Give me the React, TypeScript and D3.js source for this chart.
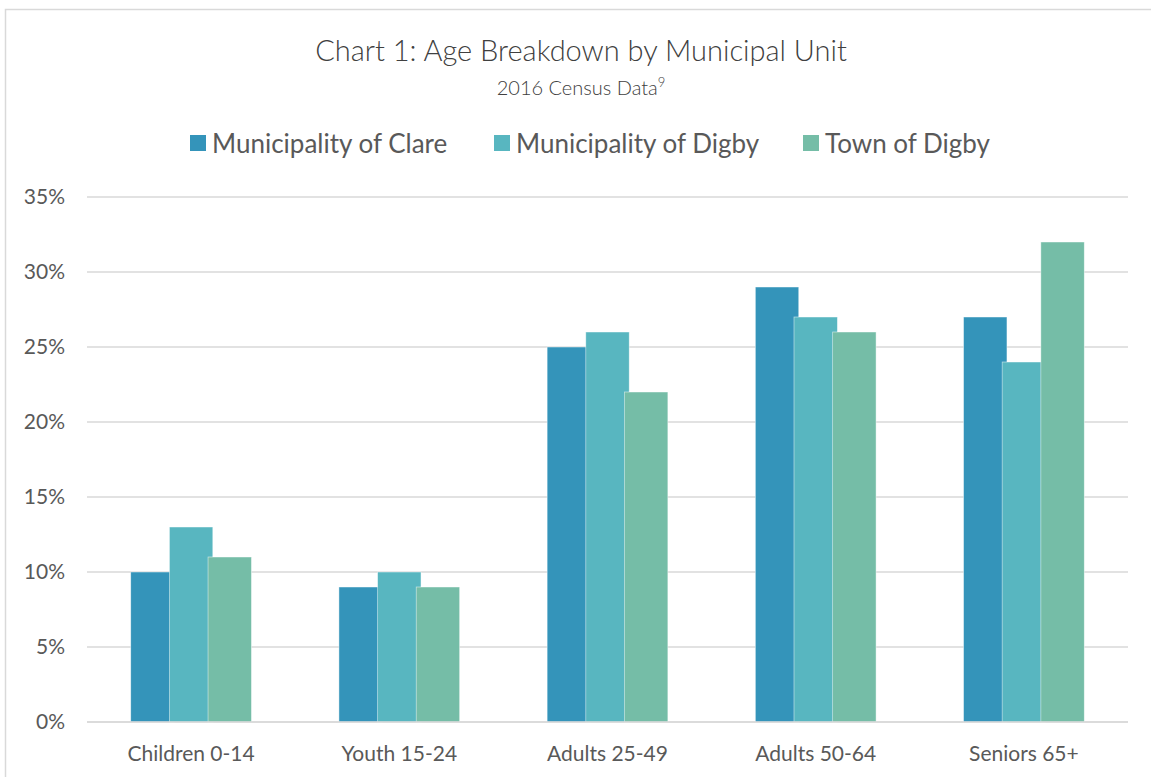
import * as d3 from 'd3';
import { useRef, useEffect } from 'react';

const categories = ['Children 0-14', 'Youth 15-24', 'Adults 25-49', 'Adults 50-64', 'Seniors 65+'];
const seriesNames = ['Municipality of Clare', 'Municipality of Digby', 'Town of Digby'];
const clare = [10, 9, 25, 29, 27];
const digbyMun = [13, 10, 26, 27, 24];
const digbyTown = [11, 9, 22, 26, 32];
const yTicks = [0, 5, 10, 15, 20, 25, 30, 35];
const colors = ['#3494BA', '#58B6C0', '#75BDA7'];

const W = 1151;
const H = 777;
const FONT = 'Lato, "Open Sans", sans-serif';
const TEXT = '#595959';

export default function App() {
  const svgRef = useRef<SVGSVGElement>(null);

  useEffect(() => {
    const svg = d3.select(svgRef.current);
    svg.selectAll('*').remove();

    const values = [clare, digbyMun, digbyTown];
    const left = 87, right = 1128, top = 197, bottom = 722;

    // chart frame (only top and left edges are visible in the crop)
    svg.append('path')
      .attr('d', `M5.5,${H} V9.5 H${W}`)
      .attr('fill', 'none')
      .attr('stroke', '#d9d9d9')
      .attr('stroke-width', 1.5);

    const x0 = d3.scaleBand<string>()
      .domain(categories)
      .range([left, right])
      .paddingInner(0.42)
      .paddingOuter(0.21);

    const y = d3.scaleLinear().domain([0, 35]).range([bottom, top]);

    // excel style overlap between bars in a group
    const overlap = 0.11;
    const barW = x0.bandwidth() / (seriesNames.length - (seriesNames.length - 1) * overlap);
    const x1 = d3.scalePoint<string>()
      .domain(seriesNames)
      .range([0, x0.bandwidth() - barW]);

    // gridlines
    svg.append('g')
      .selectAll('line')
      .data(yTicks)
      .join('line')
      .attr('x1', left)
      .attr('x2', right)
      .attr('y1', d => y(d))
      .attr('y2', d => y(d))
      .attr('stroke', '#d9d9d9')
      .attr('stroke-width', 1.5);

    // y labels
    svg.append('g')
      .selectAll('text')
      .data(yTicks)
      .join('text')
      .attr('x', 65)
      .attr('y', d => y(d) + 7)
      .attr('text-anchor', 'end')
      .style('font-family', FONT)
      .style('font-size', '21px')
      .style('fill', TEXT)
      .text(d => `${d}%`);

    // bars
    seriesNames.forEach((s, si) => {
      svg.append('g')
        .selectAll('rect')
        .data(categories)
        .join('rect')
        .attr('x', (c) => (x0(c) as number) + (x1(s) as number))
        .attr('y', (c, i) => y(values[si][i]))
        .attr('width', barW)
        .attr('height', (c, i) => bottom - y(values[si][i]))
        .attr('fill', colors[si])
        .attr('stroke', 'rgba(255,255,255,0.6)')
        .attr('stroke-width', 0.75);
    });

    // baseline
    svg.append('line')
      .attr('x1', left)
      .attr('x2', right)
      .attr('y1', bottom)
      .attr('y2', bottom)
      .attr('stroke', '#d9d9d9')
      .attr('stroke-width', 1.5);

    // x labels
    svg.append('g')
      .selectAll('text')
      .data(categories)
      .join('text')
      .attr('x', c => (x0(c) as number) + x0.bandwidth() / 2)
      .attr('y', 761)
      .attr('text-anchor', 'middle')
      .style('font-family', FONT)
      .style('font-size', '21px')
      .style('fill', TEXT)
      .text(c => c);

    // title
    svg.append('text')
      .attr('x', 581)
      .attr('y', 61)
      .attr('text-anchor', 'middle')
      .style('font-family', FONT)
      .style('font-weight', 300)
      .style('font-size', '29px')
      .style('fill', '#404040')
      .text('Chart 1: Age Breakdown by Municipal Unit');

    const sub = svg.append('text')
      .attr('x', 581)
      .attr('y', 95)
      .attr('text-anchor', 'middle')
      .style('font-family', FONT)
      .style('font-weight', 300)
      .style('font-size', '20px')
      .style('fill', '#404040');
    sub.append('tspan').text('2016 Census Data');
    sub.append('tspan').attr('dy', -8).style('font-size', '13px').text('9');

    // legend
    const legendX = [190, 494, 803];
    const lg = svg.append('g')
      .selectAll('g')
      .data(seriesNames)
      .join('g')
      .attr('transform', (d, i) => `translate(${legendX[i]},135)`);
    lg.append('rect')
      .attr('width', 16)
      .attr('height', 16)
      .attr('fill', (d, i) => colors[i]);
    lg.append('text')
      .attr('x', 22)
      .attr('y', 18)
      .style('font-family', FONT)
      .style('font-size', '26px')
      .style('fill', TEXT)
      .text(d => d);
  }, []);

  return (
    <svg
      ref={svgRef}
      width={W}
      height={H}
      style={{ position: 'absolute', left: 0, top: 0, background: '#fff' }}
    ></svg>
  );
}
